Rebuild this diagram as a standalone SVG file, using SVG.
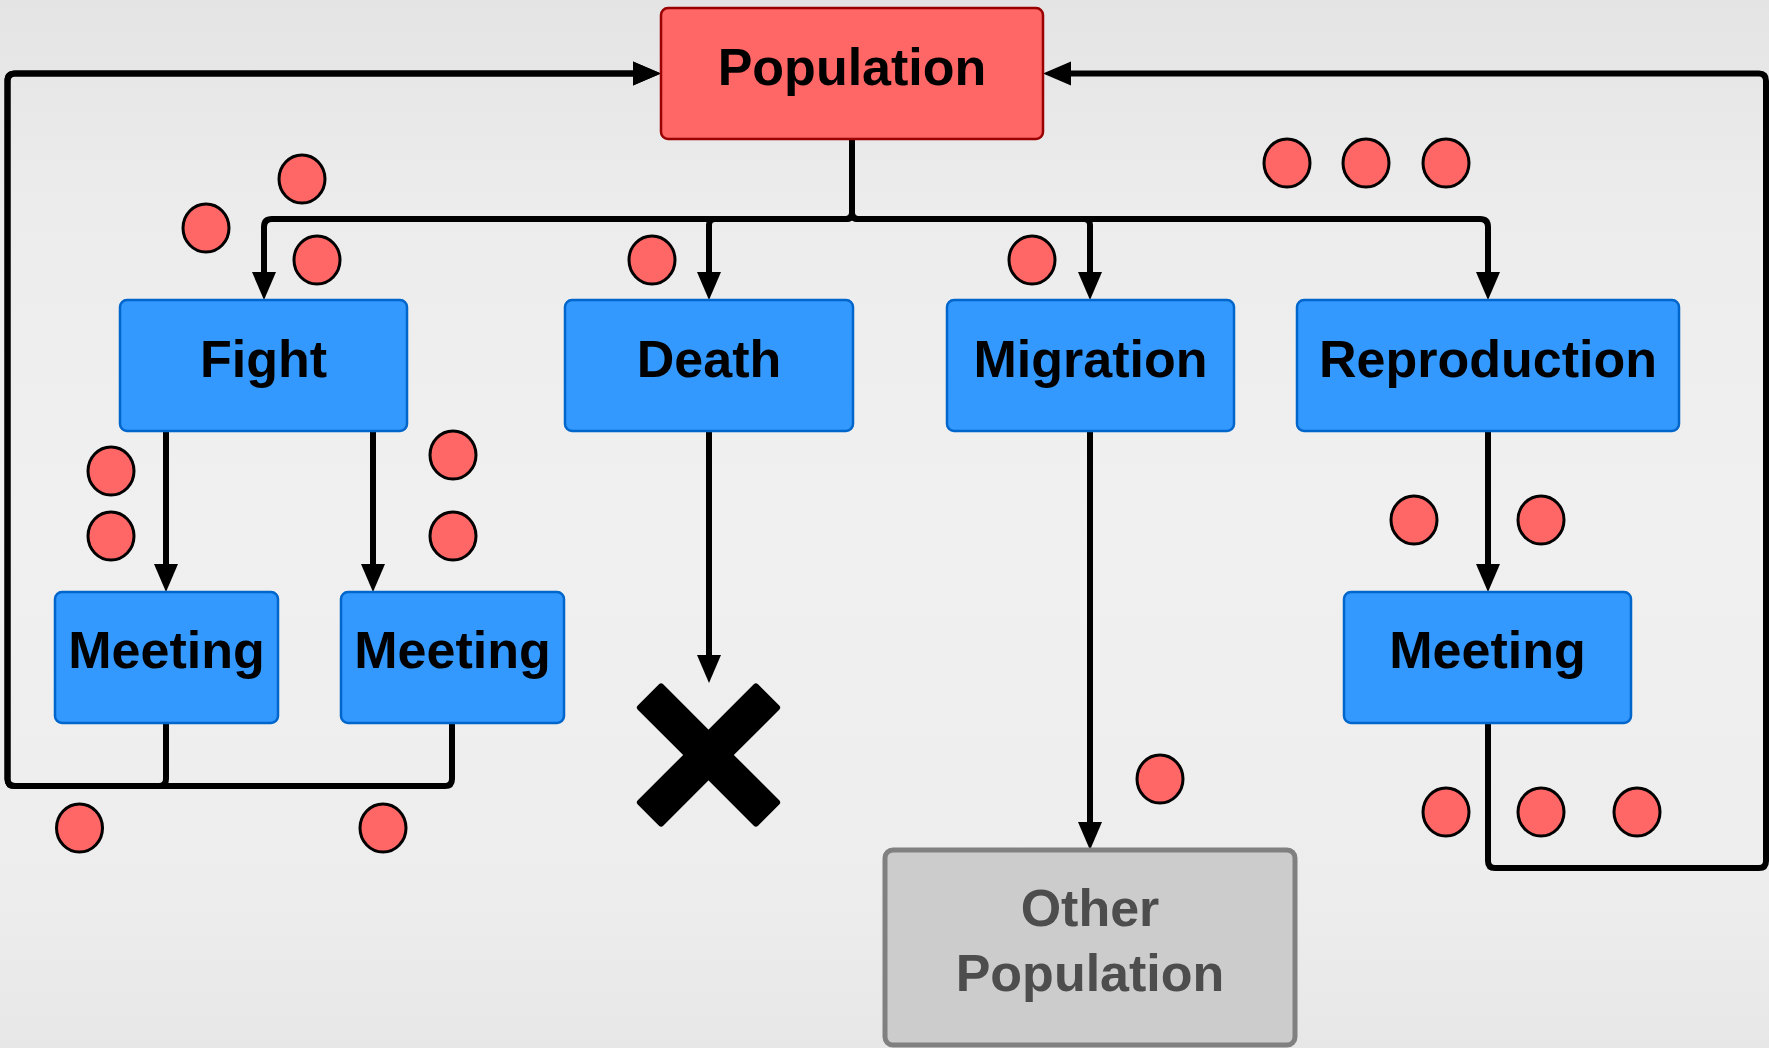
<svg xmlns="http://www.w3.org/2000/svg" width="1769" height="1048" viewBox="0 0 1769 1048">
  <defs>
    <linearGradient id="bg" x1="0" y1="0" x2="0" y2="1">
      <stop offset="0" stop-color="#e4e4e4"/>
      <stop offset="0.2" stop-color="#ececec"/>
      <stop offset="0.5" stop-color="#f0f0f0"/>
      <stop offset="0.85" stop-color="#ededed"/>
      <stop offset="1" stop-color="#e7e7e7"/>
    </linearGradient>
    <marker id="arrow" markerUnits="userSpaceOnUse" markerWidth="29" markerHeight="25" refX="8" refY="12" orient="auto" overflow="visible">
      <path d="M0,0 L28,12 L0,24 Z" fill="#000"/>
    </marker>
    <style>
      .edge { fill: none; stroke: #000; stroke-width: 6; stroke-linejoin: round; }
      .arr { marker-end: url(#arrow); }
      .blue { fill: #3399ff; stroke: #0066cc; stroke-width: 2.5; }
      .red { fill: #ff6666; stroke: #990000; stroke-width: 2.5; }
      .gray { fill: #cccccc; stroke: #808080; stroke-width: 5; }
      .label { font-family: "Liberation Sans", Arial, sans-serif; font-weight: bold; font-size: 52px; text-anchor: middle; fill: #000; }
      .label.dim { fill: #4d4d4d; }
      .dot { fill: #ff6666; stroke: #000; stroke-width: 3; }
    </style>
  </defs>

  <rect width="1769" height="1048" fill="url(#bg)"/>

  <!-- connectors -->
  <g id="connectors">
    <path class="edge arr" d="M852,139 V213 Q852,219 846,219 H272 Q264,219 264,227 V280"/>
    <path class="edge arr" d="M852,139 V213 Q852,219 846,219 H715 Q709,219 709,225 V280"/>
    <path class="edge arr" d="M852,139 V213 Q852,219 858,219 H1084 Q1090,219 1090,225 V280"/>
    <path class="edge arr" d="M852,139 V213 Q852,219 858,219 H1480 Q1488,219 1488,227 V280"/>
    <path class="edge arr" d="M166,431 V572"/>
    <path class="edge arr" d="M373,431 V572"/>
    <path class="edge arr" d="M709,431 V663"/>
    <path class="edge arr" d="M1090,431 V830"/>
    <path class="edge arr" d="M1488,431 V572"/>
    <path class="edge arr" d="M452,723 V779 Q452,786 445,786 H15 Q7.5,786 7.5,779 V81 Q7.5,73.5 15,73.5 H641"/>
    <path class="edge arr" d="M166,723 V779 Q166,786 159,786 H15 Q7.5,786 7.5,779 V81 Q7.5,73.5 15,73.5 H641"/>
    <path class="edge arr" d="M1488,723 V861 Q1488,868 1495,868 H1759 Q1766,868 1766,861 V81 Q1766,73.5 1759,73.5 H1063"/>
  </g>

  <!-- nodes -->
  <g id="population">
    <rect class="red" x="661" y="8" width="382" height="131" rx="7"/>
    <text class="label" x="852" y="85">Population</text>
  </g>
  <g id="fight">
    <rect class="blue" x="120" y="300" width="287" height="131" rx="7"/>
    <text class="label" x="263.5" y="377">Fight</text>
  </g>
  <g id="death">
    <rect class="blue" x="565" y="300" width="288" height="131" rx="7"/>
    <text class="label" x="709" y="377">Death</text>
  </g>
  <g id="migration">
    <rect class="blue" x="947" y="300" width="287" height="131" rx="7"/>
    <text class="label" x="1090.5" y="377">Migration</text>
  </g>
  <g id="reproduction">
    <rect class="blue" x="1297" y="300" width="382" height="131" rx="7"/>
    <text class="label" x="1488" y="377">Reproduction</text>
  </g>
  <g id="meeting-left">
    <rect class="blue" x="55" y="592" width="223" height="131" rx="7"/>
    <text class="label" x="166.5" y="668">Meeting</text>
  </g>
  <g id="meeting-middle">
    <rect class="blue" x="341" y="592" width="223" height="131" rx="7"/>
    <text class="label" x="452.5" y="668">Meeting</text>
  </g>
  <g id="meeting-right">
    <rect class="blue" x="1344" y="592" width="287" height="131" rx="7"/>
    <text class="label" x="1487.5" y="668">Meeting</text>
  </g>
  <g id="other-population">
    <rect class="gray" x="885" y="850" width="410" height="195" rx="8"/>
    <text class="label dim" x="1090" y="926">Other</text>
    <text class="label dim" x="1090" y="991">Population</text>
  </g>
  <g id="death-mark">
    <polygon fill="#000" stroke="#000" stroke-width="6" stroke-linejoin="round"
      points="708.5,733.8 755.9,686.4 777.1,707.6 729.7,755 777.1,802.4 755.9,823.6 708.5,776.2 661.1,823.6 639.9,802.4 687.3,755 639.9,707.6 661.1,686.4"/>
  </g>

  <!-- individuals -->
  <g id="individuals">
    <ellipse class="dot" cx="302" cy="179" rx="23" ry="24"/>
    <ellipse class="dot" cx="206" cy="228" rx="23" ry="24"/>
    <ellipse class="dot" cx="317" cy="260" rx="23" ry="24"/>
    <ellipse class="dot" cx="652" cy="260" rx="23" ry="24"/>
    <ellipse class="dot" cx="1032" cy="260" rx="23" ry="24"/>
    <ellipse class="dot" cx="1287" cy="163" rx="23" ry="24"/>
    <ellipse class="dot" cx="1366" cy="163" rx="23" ry="24"/>
    <ellipse class="dot" cx="1446" cy="163" rx="23" ry="24"/>
    <ellipse class="dot" cx="111" cy="471" rx="23" ry="24"/>
    <ellipse class="dot" cx="111" cy="536" rx="23" ry="24"/>
    <ellipse class="dot" cx="453" cy="455" rx="23" ry="24"/>
    <ellipse class="dot" cx="453" cy="536" rx="23" ry="24"/>
    <ellipse class="dot" cx="1414" cy="520" rx="23" ry="24"/>
    <ellipse class="dot" cx="1541" cy="520" rx="23" ry="24"/>
    <ellipse class="dot" cx="79.5" cy="828" rx="23" ry="24"/>
    <ellipse class="dot" cx="383" cy="828" rx="23" ry="24"/>
    <ellipse class="dot" cx="1160" cy="779" rx="23" ry="24"/>
    <ellipse class="dot" cx="1446" cy="812" rx="23" ry="24"/>
    <ellipse class="dot" cx="1541" cy="812" rx="23" ry="24"/>
    <ellipse class="dot" cx="1637" cy="812" rx="23" ry="24"/>
  </g>
</svg>
